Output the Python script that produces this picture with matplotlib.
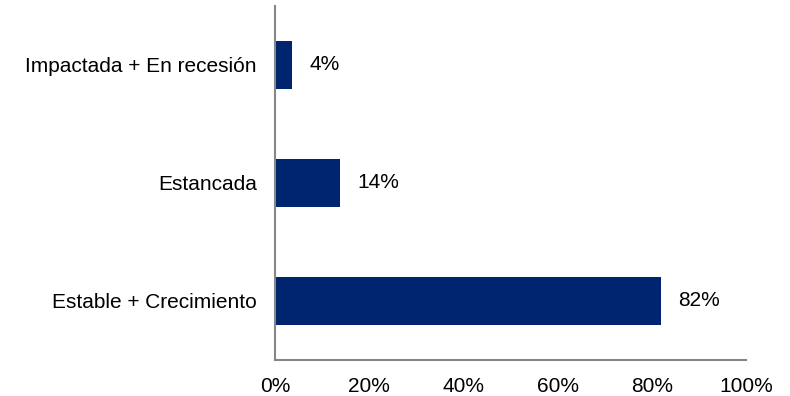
import matplotlib
matplotlib.use("Agg")
import matplotlib.pyplot as plt

categories = ["Estable + Crecimiento", "Estancada", "Impactada + En recesión"]
values = [82.0, 13.8, 3.6]
value_labels = ["82%", "14%", "4%"]
xticks = [0, 20, 40, 60, 80, 100]
xtick_labels = ["0%", "20%", "40%", "60%", "80%", "100%"]

plt.rcParams["font.family"] = ["Liberation Sans", "DejaVu Sans"]
fig = plt.figure(figsize=(7.9, 3.96), dpi=100)
ax = fig.add_axes([275 / 790, 1 - 360 / 396, (746 - 275) / 790, (360 - 6) / 396])

bar_color = "#002570"
spine_color = "#868686"
fs = 15
ypos = list(range(len(categories)))
ax.barh(ypos, values, height=0.41, color=bar_color)
for y, v, t in zip(ypos, values, value_labels):
    ax.annotate(t, xy=(v, y), xytext=(12.5, 0), textcoords="offset points",
                va="center", ha="left", fontsize=fs, color="#000000")

ax.set_xlim(0, 100)
ax.set_ylim(-0.5, 2.5)
ax.set_xticks(xticks)
ax.set_xticklabels(xtick_labels)
ax.set_yticks(ypos)
ax.set_yticklabels(categories)
ax.tick_params(axis="both", length=0, labelsize=fs, colors="#000000")
ax.tick_params(axis="y", pad=13)
ax.tick_params(axis="x", pad=12)
for s in ["top", "right"]:
    ax.spines[s].set_visible(False)
for s in ["left", "bottom"]:
    ax.spines[s].set_color(spine_color)
    ax.spines[s].set_linewidth(1.5)

fig.savefig("out.png", dpi=100)
